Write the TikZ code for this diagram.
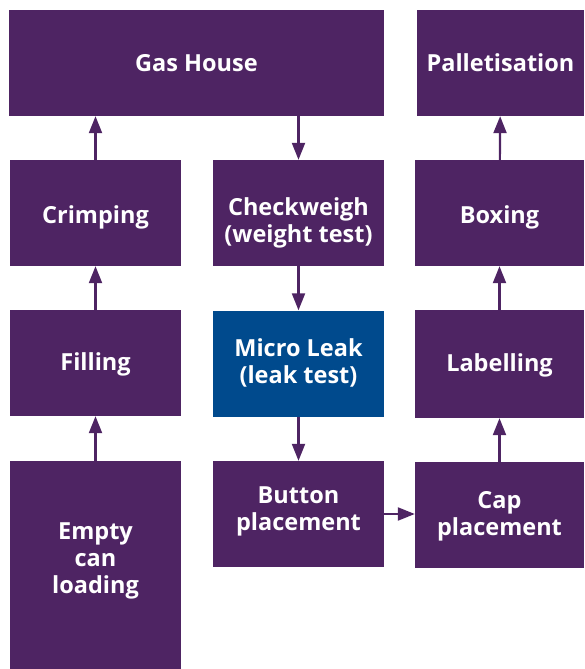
\documentclass[tikz,border=0pt]{standalone}
\usepackage{fontspec}
\setmainfont{Open Sans}
\usepackage{tikz}
\usetikzlibrary{arrows.meta}
\definecolor{plum}{HTML}{4E2463}
\definecolor{leakblue}{HTML}{004A8D}
\tikzset{
  stage/.style={fill=plum, text=white, font=\bfseries\fontsize{23.5}{27}\selectfont,
    align=center, inner sep=0pt, text height=19pt, text depth=0pt,
    minimum width=171pt, minimum height=106pt},
  flow/.style={draw=plum, line width=2.2pt, -{Triangle[length=17pt,width=13pt]}}
}

\begin{document}
\begin{tikzpicture}[x=1pt, y=-1pt]
\useasboundingbox (0,0) rectangle (584,669);
\node[stage, minimum width=375pt, text height=17.5pt](gas) at (196.5, 63) {Gas House};
\node[stage, minimum width=167pt, text height=17.5pt](pal) at (500.5, 63) {Palletisation};
\node[stage, text height=20pt](crimp) at (95.5, 213) {Crimping};
\node[stage, text height=58pt](check) at (298.5, 213) {Checkweigh\\(weight test)};
\node[stage, minimum width=169pt, text height=20pt](boxing) at (499.5, 213) {Boxing};
\node[stage, text height=15pt](fill) at (95.5, 363) {Filling};
\node[stage, fill=leakblue, text height=39pt](leak) at (298.5, 363.5) {Micro Leak\\(leak test)};
\node[stage, minimum width=169pt, minimum height=108pt, text height=14pt](label) at (499.5, 364) {Labelling};
\node[stage, minimum height=208pt, text height=56pt](empty) at (95.5, 565) {Empty\\can\\loading};
\node[stage, text height=33.4pt](button) at (298.5, 514) {Button\\placement};
\node[stage, minimum width=169pt, text height=40pt](cap) at (499.5, 515) {Cap\\placement};
\draw[flow] (empty) -- (fill);
\draw[flow] (fill) -- (crimp);
\draw[flow] (crimp.north) -- (crimp.north |- gas.south);
\draw[flow] (gas.south -| check.north) -- (check.north);
\draw[flow] (check) -- (leak);
\draw[flow] (leak) -- (button);
\draw[flow] (button.east) -- (button.east -| cap.west);
\draw[flow] (cap) -- (label);
\draw[flow] (label) -- (boxing);
\draw[flow] (boxing) -- (pal);
\end{tikzpicture}
\end{document}
